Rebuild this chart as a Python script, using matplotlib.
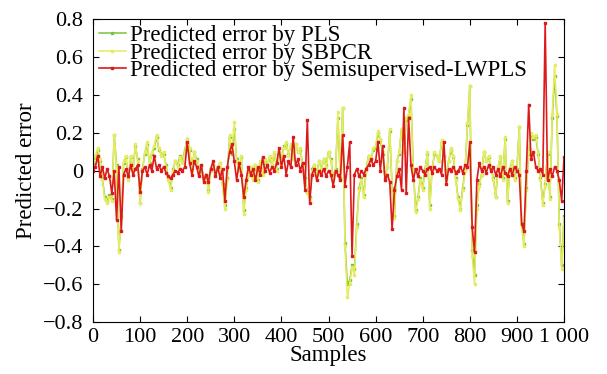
import matplotlib.pyplot as plt
from matplotlib.ticker import FixedLocator, FixedFormatter
import numpy as np

plt.rcParams['font.family'] = ['Liberation Serif', 'DejaVu Serif']
plt.rcParams['axes.unicode_minus'] = True

# sample index of every stored point (one value every 5 samples)
samples = np.arange(0, 1001, 5)

err_sbpcr = [
    0.05, 0.08, 0.12, 0.06, -0.05, -0.15, -0.17, -0.14, -0.16, 0.19,
    0.02, -0.43, -0.25, 0.05, 0.08, -0.05, 0.08, 0.0, 0.14, 0.05,
    -0.17, 0.0, 0.1, 0.15, 0.03, 0.1, 0.13, 0.19, 0.12, 0.08,
    0.1, 0.02, -0.05, -0.1, 0.0, 0.05, 0.02, 0.07, 0.04, 0.1,
    0.17, 0.12, 0.0, 0.1, 0.05, -0.02, 0.03, -0.05, -0.03, -0.11,
    0.0, 0.03, -0.02, 0.02, 0.04, -0.08, -0.2, -0.05, 0.19, 0.1,
    0.26, 0.05, 0.0, 0.08, -0.23, -0.1, -0.03, 0.02, -0.05, 0.03,
    -0.06, 0.05, -0.02, 0.06, 0.02, 0.08, 0.03, 0.1, 0.0, 0.1,
    0.04, 0.12, 0.15, 0.08, 0.14, 0.06, 0.14, 0.1, 0.12, 0.03,
    -0.05, -0.12, -0.15, 0.0, 0.03, -0.02, 0.05, 0.0, 0.06, 0.02,
    0.1, 0.05, -0.05, 0.0, 0.31, -0.05, 0.33, -0.4, -0.67, -0.6,
    -0.51, -0.55, -0.3, -0.1, -0.05, -0.14, 0.0, 0.08, 0.05, 0.12,
    0.13, 0.21, 0.17, 0.1, -0.05, 0.02, 0.22, -0.1, -0.25, 0.05,
    0.1, 0.22, 0.1, 0.28, 0.3, 0.4, 0.0, -0.22, -0.15, -0.05,
    -0.1, 0.0, 0.1, -0.2, 0.0, 0.1, 0.08, 0.05, 0.16, 0.08,
    -0.05, 0.05, 0.12, 0.08, -0.05, -0.15, -0.21, -0.1, 0.0, 0.25,
    0.45, -0.45, -0.6, -0.2, -0.08, -0.02, 0.1, 0.05, 0.08, 0.02,
    -0.05, -0.14, 0.02, 0.08, -0.05, 0.18, -0.17, 0.0, 0.05, -0.05,
    0.0, 0.23, -0.3, -0.4, -0.1, 0.1, 0.2, 0.18, 0.19, 0.1,
    -0.05, -0.18, -0.08, 0.1, -0.15, 0.3, 0.56, 0.3, -0.3, -0.52,
    -0.25,
]

err_pls = [
    0.04, 0.07, 0.11, 0.05, -0.04, -0.14, -0.16, -0.13, -0.15, 0.19,
    0.03, -0.42, -0.24, 0.04, 0.07, -0.04, 0.07, 0.01, 0.13, 0.06,
    -0.17, 0.01, 0.09, 0.14, 0.04, 0.09, 0.12, 0.18, 0.11, 0.09,
    0.09, 0.03, -0.04, -0.09, 0.01, 0.05, 0.03, 0.08, 0.05, 0.11,
    0.17, 0.11, 0.01, 0.1, 0.06, -0.01, 0.03, -0.04, -0.02, -0.1,
    0.01, 0.03, -0.01, 0.02, 0.04, -0.07, -0.18, -0.04, 0.18, 0.09,
    0.22, 0.06, 0.01, 0.07, -0.21, -0.09, -0.02, 0.02, -0.04, 0.03,
    -0.05, 0.04, -0.01, 0.05, 0.02, 0.07, 0.03, 0.09, 0.01, 0.09,
    0.05, 0.13, 0.14, 0.09, 0.13, 0.07, 0.14, 0.1, 0.11, 0.04,
    -0.04, -0.11, -0.14, 0.01, 0.03, -0.01, 0.05, 0.01, 0.06, 0.03,
    0.1, 0.06, -0.04, 0.01, 0.28, -0.04, 0.33, -0.38, -0.6, -0.58,
    -0.5, -0.52, -0.28, -0.09, -0.04, -0.13, 0.01, 0.08, 0.06, 0.11,
    0.12, 0.2, 0.16, 0.09, -0.04, 0.02, 0.21, -0.09, -0.24, 0.05,
    0.09, 0.22, 0.1, 0.27, 0.29, 0.38, 0.01, -0.21, -0.14, -0.04,
    -0.09, 0.01, 0.09, -0.18, 0.01, 0.09, 0.08, 0.05, 0.15, 0.08,
    -0.04, 0.05, 0.11, 0.07, -0.04, -0.14, -0.2, -0.09, 0.01, 0.24,
    0.45, -0.42, -0.55, -0.18, -0.07, -0.02, 0.1, 0.05, 0.07, 0.02,
    -0.04, -0.14, 0.02, 0.07, -0.04, 0.17, -0.16, 0.01, 0.05, -0.04,
    0.01, 0.23, -0.28, -0.39, -0.09, 0.09, 0.19, 0.17, 0.18, 0.09,
    -0.04, -0.17, -0.07, 0.09, -0.14, 0.28, 0.5, 0.29, -0.28, -0.5,
    -0.24,
]

err_sslwpls = [
    0.0, 0.02, 0.08, -0.03, 0.02, -0.04, 0.01, -0.03, -0.12, 0.0,
    -0.26, 0.02, -0.32, -0.02, 0.01, -0.03, 0.03, -0.02, 0.01, 0.03,
    -0.11, 0.0, 0.02, -0.02, 0.03, 0.0, 0.08, 0.01, 0.03, 0.0,
    0.02, -0.01, -0.03, -0.04, -0.02, 0.0, -0.01, 0.01, 0.0, 0.02,
    0.15, 0.04, -0.02, 0.05, 0.02, -0.03, 0.03, -0.06, -0.02, -0.06,
    0.01, 0.05, -0.03, 0.02, -0.04, 0.01, -0.16, 0.02, 0.1, 0.14,
    0.05, -0.05, 0.04, -0.02, -0.14, -0.05, 0.02, -0.02, 0.01, -0.05,
    0.02, -0.02, 0.07, 0.0, 0.03, -0.01, 0.02, 0.0, 0.04, 0.12,
    0.02, 0.08, -0.02, 0.05, 0.02, 0.18, 0.03, 0.06, 0.0, 0.04,
    -0.1, 0.27, -0.17, -0.02, 0.01, -0.05, 0.0, -0.02, 0.01, -0.03,
    0.0, -0.02, -0.08, 0.0, -0.02, -0.05, 0.19, -0.08, 0.02, 0.15,
    -0.45, -0.02, 0.01, -0.03, 0.0, -0.02, 0.01, 0.03, 0.06, 0.03,
    0.05, 0.15, 0.0, 0.13, -0.05, -0.02, -0.06, -0.31, -0.1, -0.03,
    0.01, -0.1, 0.33, -0.12, 0.28, 0.03, -0.05, 0.01, -0.03, 0.02,
    0.0, -0.02, 0.01, 0.02, -0.01, 0.02, 0.0, 0.01, -0.02, 0.15,
    -0.07, 0.01, 0.0, 0.02, -0.01, 0.0, 0.02, -0.01, 0.03, 0.02,
    0.15, -0.3, -0.43, -0.05, 0.04, 0.0, 0.02, -0.01, 0.03, 0.0,
    0.02, -0.02, 0.01, -0.03, 0.02, -0.01, -0.03, 0.01, -0.02, 0.02,
    0.0, -0.02, -0.28, -0.32, 0.0, 0.35, 0.06, 0.1, 0.02, 0.0,
    0.01, -0.02, 0.78, -0.05, 0.01, -0.03, 0.02, 0.0, -0.05, -0.16,
    0.07,
]

xticks = [0, 100, 200, 300, 400, 500, 600, 700, 800, 900, 1000]
xtick_labels = ['0', '100', '200', '300', '400', '500', '600', '700',
                '800', '900', '1 000']
yticks = [-0.8, -0.6, -0.4, -0.2, 0, 0.2, 0.4, 0.6, 0.8]
ytick_labels = ['\u22120.8', '\u22120.6', '\u22120.4', '\u22120.2', '0',
                '0.2', '0.4', '0.6', '0.8']

fig = plt.figure(figsize=(6.07, 3.74), dpi=100)
ax = fig.add_axes([0.1532, 0.139, 0.776, 0.809])

ax.plot(samples, err_pls, '-s', color='#7cc13c', lw=1.1, ms=1.7,
        label='Predicted error by PLS')
ax.plot(samples, err_sbpcr, '-s', color='#e6ec5c', lw=1.1, ms=1.7,
        label='Predicted error by SBPCR')
ax.plot(samples, err_sslwpls, '-s', color='#dc1a1c', lw=1.2, ms=1.7,
        label='Predicted error by Semisupervised-LWPLS')

ax.set_xlim(0, 1000)
ax.set_ylim(-0.8, 0.8)
ax.xaxis.set_major_locator(FixedLocator(xticks))
ax.xaxis.set_major_formatter(FixedFormatter(xtick_labels))
ax.yaxis.set_major_locator(FixedLocator(yticks))
ax.yaxis.set_major_formatter(FixedFormatter(ytick_labels))
ax.tick_params(direction='in', top=True, right=True, length=4,
               labelsize=16)
ax.tick_params(axis='y', pad=7)
ax.tick_params(axis='x', pad=4)
ax.set_xlabel('Samples', fontsize=16.5, labelpad=-1)
ax.set_ylabel('Predicted error', fontsize=16.5, labelpad=4)

ax.legend(loc='upper left', bbox_to_anchor=(0.0, 1.0), frameon=False,
          fontsize=16.5, handlelength=1.2, handletextpad=0.15,
          labelspacing=-0.16, borderaxespad=0.1, borderpad=0.15)

fig.savefig('out.png', dpi=100)
